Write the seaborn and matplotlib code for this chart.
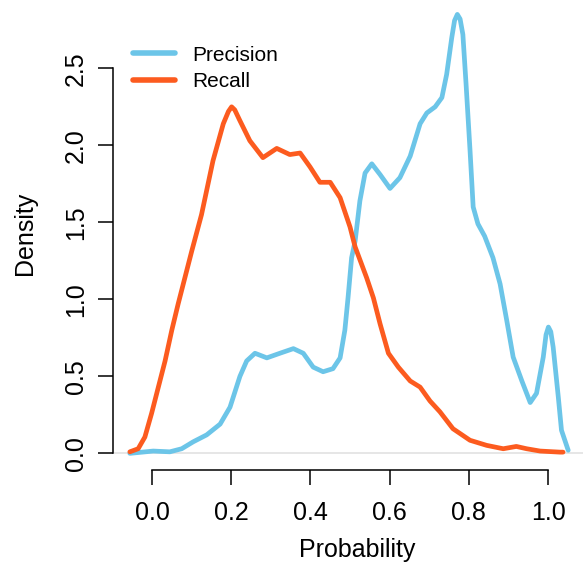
import numpy as np
import pandas as pd
import matplotlib
matplotlib.use("Agg")
import matplotlib.pyplot as plt
import seaborn as sns

# Kernel density estimates of precision and recall over probability
precision_x = [-0.056, 0.003, 0.045, 0.075, 0.104, 0.138, 0.172, 0.197, 0.222, 0.239,
               0.260, 0.290, 0.323, 0.357, 0.382, 0.407, 0.432, 0.457, 0.475, 0.487,
               0.495, 0.504, 0.513, 0.525, 0.538, 0.555, 0.576, 0.601, 0.626, 0.652,
               0.677, 0.694, 0.715, 0.732, 0.744, 0.757, 0.764, 0.771, 0.778, 0.785,
               0.793, 0.803, 0.811, 0.823, 0.840, 0.861, 0.879, 0.896, 0.912, 0.934,
               0.955, 0.971, 0.988, 0.995, 1.001, 1.007, 1.013, 1.026, 1.034, 1.051]
precision_y = [0.00, 0.015, 0.01, 0.03, 0.075, 0.12, 0.19, 0.30, 0.50, 0.60,
               0.65, 0.62, 0.65, 0.68, 0.65, 0.56, 0.53, 0.55, 0.62, 0.80,
               1.01, 1.27, 1.38, 1.64, 1.82, 1.88, 1.81, 1.72, 1.79, 1.93,
               2.14, 2.21, 2.25, 2.31, 2.46, 2.70, 2.81, 2.85, 2.82, 2.72,
               2.40, 1.97, 1.60, 1.49, 1.41, 1.27, 1.10, 0.86, 0.625, 0.47,
               0.33, 0.39, 0.625, 0.77, 0.82, 0.79, 0.69, 0.365, 0.15, 0.02]

recall_x = [-0.056, -0.035, -0.018, -0.001, 0.016, 0.033, 0.050, 0.066, 0.083, 0.100,
            0.125, 0.154, 0.180, 0.193, 0.201, 0.209, 0.222, 0.247, 0.280, 0.315,
            0.348, 0.374, 0.399, 0.424, 0.450, 0.475, 0.500, 0.513, 0.542, 0.559,
            0.576, 0.597, 0.622, 0.652, 0.677, 0.702, 0.727, 0.760, 0.803, 0.845,
            0.887, 0.920, 0.946, 0.980, 1.030, 1.038]
recall_y = [0.01, 0.03, 0.106, 0.26, 0.43, 0.60, 0.80, 0.97, 1.14, 1.31,
            1.55, 1.90, 2.14, 2.22, 2.25, 2.23, 2.16, 2.03, 1.92, 1.98,
            1.94, 1.95, 1.86, 1.76, 1.76, 1.66, 1.47, 1.34, 1.14, 1.01,
            0.84, 0.65, 0.56, 0.47, 0.43, 0.34, 0.27, 0.16, 0.085, 0.052,
            0.03, 0.045, 0.03, 0.015, 0.008, 0.008]

series_names = ["Precision", "Recall"]
series_colors = {"Precision": "#6CC5E8", "Recall": "#FC5B1F"}

x_ticks = [0.0, 0.2, 0.4, 0.6, 0.8, 1.0]
y_ticks = [0.0, 0.5, 1.0, 1.5, 2.0, 2.5]

df = pd.concat([
    pd.DataFrame({"Probability": precision_x, "Density": precision_y, "series": series_names[0]}),
    pd.DataFrame({"Probability": recall_x, "Density": recall_y, "series": series_names[1]}),
], ignore_index=True)

sns.set_style("white")
plt.rcParams["font.family"] = ["Liberation Sans", "DejaVu Sans"]
plt.rcParams["text.color"] = "black"
plt.rcParams["axes.labelcolor"] = "black"

W, H = 583, 563
fig = plt.figure(figsize=(W / 100, H / 100), dpi=100)
# axes box in pixel terms: left 113, right 601, top -3, bottom 470
ax = fig.add_axes([113 / W, (H - 470) / H, (601 - 113) / W, 473 / H])

ax.axhline(0, color="#E4E4E4", lw=1.3, zorder=0)

sns.lineplot(data=df, x="Probability", y="Density", hue="series",
             hue_order=series_names, palette=series_colors, sort=False,
             estimator=None, lw=3.4, ax=ax, solid_capstyle="round",
             solid_joinstyle="round")

ax.set_xlim(-0.0985, 1.1338)
ax.set_ylim(-0.108, 2.963)

for side in ("top", "right"):
    ax.spines[side].set_visible(False)
ax.spines["left"].set_bounds(0, 2.5)
ax.spines["bottom"].set_bounds(0, 1.0)
for side in ("left", "bottom"):
    ax.spines[side].set_color("black")
    ax.spines[side].set_linewidth(1.1)

ax.set_xticks(x_ticks)
ax.set_xticklabels([f"{v:.1f}" for v in x_ticks])
ax.set_yticks(y_ticks)
ax.set_yticklabels([f"{v:.1f}" for v in y_ticks])
ax.tick_params(axis="both", direction="out", length=11, width=1.1,
               color="black", labelsize=18, labelcolor="black",
               bottom=True, left=True)
ax.tick_params(axis="x", pad=11)
ax.tick_params(axis="y", pad=7)
for lab in ax.get_yticklabels():
    lab.set_rotation(90)
    lab.set_va("center")

ax.set_xlabel("Probability", fontsize=18, color="black")
ax.set_ylabel("Density", fontsize=18, color="black")
ax.xaxis.set_label_coords(0.5, -0.184)
ax.xaxis.label.set_va("baseline")
ax.yaxis.set_label_coords((25 - 113) / 488, 0.5)
ax.yaxis.label.set_va("center")

leg = ax.legend(loc="upper left", bbox_to_anchor=(0.041, 0.897), frameon=False,
                fontsize=15, handlelength=2.0, handletextpad=0.85,
                labelspacing=0.36, borderpad=0, borderaxespad=0, title=None)
for line in leg.get_lines():
    line.set_linewidth(4)
for txt in leg.get_texts():
    txt.set_color("black")

fig.savefig("out.png", dpi=100)
